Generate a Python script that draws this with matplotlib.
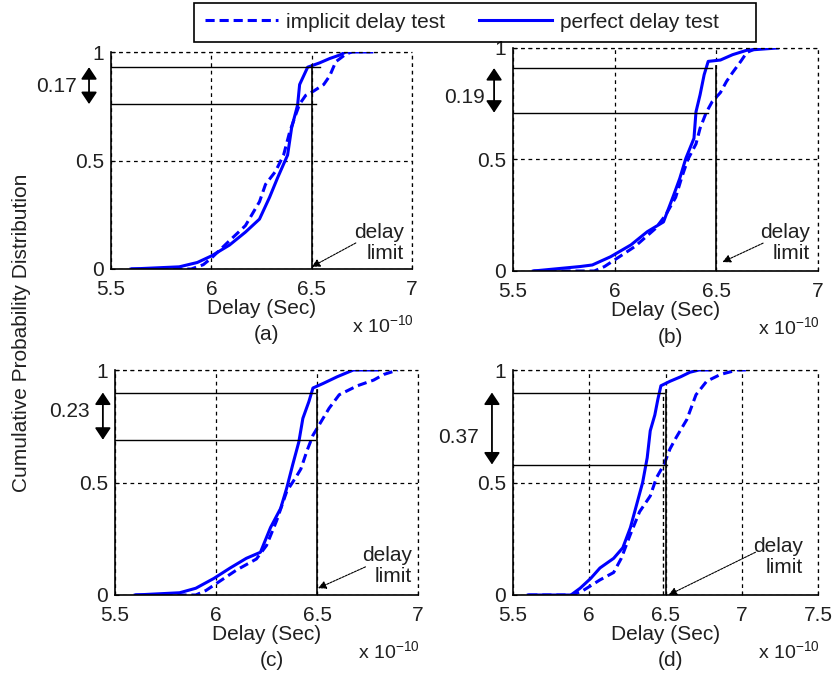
import matplotlib
matplotlib.use("Agg")
import matplotlib.pyplot as plt
from matplotlib.lines import Line2D
from matplotlib.patches import Rectangle

plt.rcParams['font.family'] = ['Liberation Sans', 'DejaVu Sans']
plt.rcParams['font.size'] = 15
plt.rcParams['text.color'] = '#202020'

BLUE = '#0000ff'

# delay values in units of 1e-10 s, CDF
a_perfect_x = [5.60, 5.84, 5.93, 6.00, 6.09, 6.17, 6.24, 6.29, 6.33, 6.38, 6.40, 6.43, 6.44, 6.47, 6.48, 6.54, 6.59, 6.64, 6.67, 6.80]
a_perfect_y = [0.00, 0.01, 0.03, 0.06, 0.11, 0.17, 0.23, 0.33, 0.42, 0.525, 0.65, 0.756, 0.85, 0.91, 0.93, 0.95, 0.97, 0.986, 1.00, 1.00]
a_implicit_x = [5.60, 5.90, 5.96, 6.00, 6.09, 6.17, 6.24, 6.27, 6.32, 6.36, 6.39, 6.42, 6.44, 6.47, 6.51, 6.56, 6.59, 6.62, 6.67, 6.70]
a_implicit_y = [0.00, 0.00, 0.02, 0.05, 0.13, 0.20, 0.31, 0.39, 0.45, 0.525, 0.63, 0.71, 0.76, 0.80, 0.82, 0.85, 0.89, 0.955, 0.99, 1.00]

b_perfect_x = [5.60, 5.83, 5.89, 5.98, 6.08, 6.16, 6.24, 6.29, 6.32, 6.35, 6.39, 6.40, 6.42, 6.44, 6.46, 6.52, 6.58, 6.65, 6.80]
b_perfect_y = [0.00, 0.02, 0.027, 0.064, 0.117, 0.176, 0.22, 0.34, 0.415, 0.505, 0.595, 0.714, 0.79, 0.88, 0.94, 0.946, 0.97, 0.99, 1.00]
b_implicit_x = [5.60, 5.90, 5.95, 6.00, 6.10, 6.20, 6.25, 6.30, 6.33, 6.36, 6.40, 6.42, 6.45, 6.48, 6.52, 6.55, 6.58, 6.62, 6.65, 6.70]
b_implicit_y = [0.00, 0.00, 0.02, 0.05, 0.11, 0.19, 0.25, 0.33, 0.42, 0.50, 0.57, 0.64, 0.71, 0.76, 0.80, 0.85, 0.89, 0.94, 0.98, 1.00]

c_perfect_x = [5.60, 5.82, 5.90, 5.99, 6.07, 6.15, 6.22, 6.27, 6.32, 6.35, 6.38, 6.41, 6.43, 6.46, 6.48, 6.53, 6.60, 6.68, 6.80]
c_perfect_y = [0.00, 0.01, 0.03, 0.074, 0.12, 0.163, 0.19, 0.30, 0.385, 0.475, 0.58, 0.68, 0.785, 0.86, 0.92, 0.94, 0.97, 1.00, 1.00]
c_implicit_x = [5.60, 5.90, 5.95, 6.00, 6.10, 6.20, 6.25, 6.30, 6.35, 6.40, 6.42, 6.45, 6.48, 6.52, 6.56, 6.61, 6.70, 6.78, 6.83, 6.90]
c_implicit_y = [0.00, 0.00, 0.02, 0.05, 0.11, 0.16, 0.22, 0.33, 0.46, 0.53, 0.56, 0.64, 0.71, 0.77, 0.83, 0.89, 0.93, 0.955, 0.98, 1.00]

d_perfect_x = [5.60, 5.88, 5.94, 6.01, 6.07, 6.16, 6.22, 6.27, 6.31, 6.35, 6.38, 6.40, 6.43, 6.45, 6.47, 6.53, 6.60, 6.66, 6.72, 6.79]
d_perfect_y = [0.00, 0.00, 0.03, 0.074, 0.12, 0.163, 0.21, 0.30, 0.40, 0.50, 0.61, 0.73, 0.80, 0.87, 0.93, 0.95, 0.97, 0.99, 1.00, 1.00]
d_implicit_x = [5.60, 5.89, 5.96, 6.07, 6.16, 6.21, 6.27, 6.33, 6.40, 6.44, 6.49, 6.53, 6.57, 6.64, 6.70, 6.77, 6.86, 6.97, 7.05]
d_implicit_y = [0.00, 0.00, 0.02, 0.067, 0.10, 0.163, 0.27, 0.37, 0.44, 0.52, 0.58, 0.65, 0.70, 0.78, 0.89, 0.95, 0.98, 1.00, 1.00]

# bracket levels (upper, lower) and the gap label
gaps = ['0.17', '0.19', '0.23', '0.37']
upper_lvl = [0.93, 0.91, 0.90, 0.90]
lower_lvl = [0.76, 0.71, 0.69, 0.58]
xmax = [7.0, 7.0, 7.0, 7.5]
xticks = [[5.5, 6, 6.5, 7], [5.5, 6, 6.5, 7], [5.5, 6, 6.5, 7], [5.5, 6, 6.5, 7, 7.5]]
panel_tags = ['(a)', '(b)', '(c)', '(d)']
delay_limit = 6.5

perfect = [(a_perfect_x, a_perfect_y), (b_perfect_x, b_perfect_y),
           (c_perfect_x, c_perfect_y), (d_perfect_x, d_perfect_y)]
implicit = [(a_implicit_x, a_implicit_y), (b_implicit_x, b_implicit_y),
            (c_implicit_x, c_implicit_y), (d_implicit_x, d_implicit_y)]

W, H = 832, 678
fig = plt.figure(figsize=(W / 100, H / 100), dpi=100)

# axes boxes in pixels: left, top, right, bottom
boxes = [(111, 52, 412, 269), (513, 48, 818, 271),
         (115, 370, 418, 595), (513, 370, 818, 595)]
# extra per-panel placement (data / axes fraction)
hline_end = [[6.54, 6.52], [6.48, 6.46], [6.49, 6.49], [6.49, 6.51]]
arrow_fx = [-0.073, -0.062, -0.04, -0.069]
gap_fx = [-0.18, -0.16, -0.15, -0.18]
gap_y = [0.84, 0.78, 0.815, 0.70]
lim_text = [(6.96, 0.12), (6.96, 0.125), (6.97, 0.13), (7.40, 0.17)]
lim_tail = [(6.72, 0.12), (6.73, 0.125), (6.74, 0.125), (7.09, 0.19)]
lim_head = [(6.50, 0.01), (6.53, 0.04), (6.505, 0.03), (6.52, 0.0)]


def fx(px):
    return px / W


def fy(py):
    return 1 - py / H


for i in range(4):
    l, t, r, b = boxes[i]
    ax = fig.add_axes([fx(l), fy(b), (r - l) / W, (b - t) / H])
    ax.plot(implicit[i][0], implicit[i][1], color=BLUE, lw=2.2, ls=(0, (3, 1.6)))
    ax.plot(perfect[i][0], perfect[i][1], color=BLUE, lw=2.2)

    # bracket lines and delay limit
    ax.plot([5.5, hline_end[i][0]], [upper_lvl[i]] * 2, color='k', lw=1)
    ax.plot([5.5, hline_end[i][1]], [lower_lvl[i]] * 2, color='k', lw=1)
    ax.plot([delay_limit, delay_limit], [0, upper_lvl[i] + 0.01], color='k', lw=1.2)
    if i == 3:
        ax.plot([delay_limit - 0.015] * 2, [0, upper_lvl[i]], color='k', lw=1, ls=(0, (3, 2)))

    ax.set_xlim(5.5, xmax[i])
    ax.set_ylim(0, 1)
    ax.set_xticks(xticks[i])
    ax.set_xticklabels(['%g' % v for v in xticks[i]])
    ax.set_yticks([0, 0.5, 1])
    ax.set_yticklabels(['0', '0.5', '1'])
    ax.tick_params(direction='in', length=3, pad=5, colors='k', labelcolor='#202020')
    ax.tick_params(axis='x', pad=8)
    ax.grid(True, color='k', ls=(0, (3, 3)), lw=0.9)
    ax.spines['top'].set_visible(False)
    ax.spines['right'].set_visible(False)
    for s in ['left', 'bottom']:
        ax.spines[s].set_linewidth(1.2)
    # dashed frame on top/right like the grid
    ax.axhline(1, color='k', ls=(0, (3, 3)), lw=0.9, clip_on=False)
    ax.axvline(xmax[i], color='k', ls=(0, (3, 3)), lw=0.9, clip_on=False)

    # double arrow with gap value
    ax.annotate('', xy=(arrow_fx[i], upper_lvl[i]), xytext=(arrow_fx[i], lower_lvl[i]),
                xycoords=('axes fraction', 'data'), textcoords=('axes fraction', 'data'),
                arrowprops=dict(arrowstyle='<|-|>,head_length=0.45,head_width=0.3',
                                color='k', lw=1.3, mutation_scale=16,
                                shrinkA=0, shrinkB=0),
                annotation_clip=False)
    ax.text(gap_fx[i], gap_y[i], gaps[i], transform=ax.get_yaxis_transform(),
            ha='center', va='center')

    # delay limit pointer
    ax.text(lim_text[i][0], lim_text[i][1], 'delay\nlimit', ha='right', va='center',
            multialignment='right', linespacing=1.15)
    ax.annotate('', xy=lim_head[i], xytext=lim_tail[i],
                arrowprops=dict(arrowstyle='-|>', color='k', lw=0.8, ls=(0, (2, 1)),
                                mutation_scale=12, shrinkA=0, shrinkB=0))

    # axis labels
    cx = (l + r) / 2
    ax.set_xlabel('Delay (Sec)', labelpad=0, color='#202020')
    fig.text(fx(cx + 5), fy(b + 66), panel_tags[i], ha='center', va='center')
    fig.text(fx(r + 2), fy(b + 57), r'x 10$^{\mathregular{-10}}$', ha='right', va='center',
             fontsize=14)

fig.text(fx(22), fy(333), 'Cumulative Probability Distribution', rotation=90,
         ha='center', va='center')

# legend box drawn separately to match the wide MATLAB frame
fig.patches.append(Rectangle((fx(194), fy(42)), (756 - 194) / W, 39 / H,
                             transform=fig.transFigure, fill=False,
                             edgecolor='k', lw=1.2))
handles = [Line2D([], [], color=BLUE, lw=2.2, ls=(0, (3, 1.6))),
           Line2D([], [], color=BLUE, lw=2.2)]
fig.legend(handles, ['implicit delay test', 'perfect delay test'], ncol=2,
           loc='center left', bbox_to_anchor=(fx(205), fy(22)), frameon=False,
           handlelength=3.5, columnspacing=1.6, borderpad=0, borderaxespad=0,
           handletextpad=0.4)

fig.savefig('out.png', dpi=100, facecolor='white')
